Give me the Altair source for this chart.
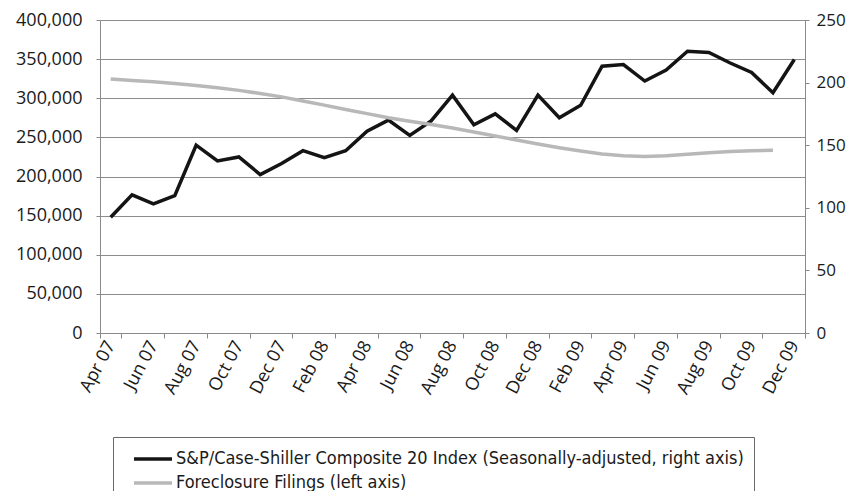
import altair as alt
import pandas as pd

months = ["Apr 07", "May 07", "Jun 07", "Jul 07", "Aug 07", "Sep 07", "Oct 07", "Nov 07",
          "Dec 07", "Jan 08", "Feb 08", "Mar 08", "Apr 08", "May 08", "Jun 08", "Jul 08",
          "Aug 08", "Sep 08", "Oct 08", "Nov 08", "Dec 08", "Jan 09", "Feb 09", "Mar 09",
          "Apr 09", "May 09", "Jun 09", "Jul 09", "Aug 09", "Sep 09", "Oct 09", "Nov 09",
          "Dec 09"]

# black line, plotted against the left axis
black_values = [148000, 176500, 165000, 175500, 240000, 220000, 225000, 202500,
                216500, 233000, 224000, 233000, 258000, 272000, 252500, 271000,
                304000, 266000, 280000, 259000, 304000, 275000, 291000, 341000,
                343000, 322000, 336000, 360000, 358500, 345000, 333000, 307000,
                349500]

# gray line, plotted against the right axis (no value for Dec 09)
gray_values = [202.8, 201.7, 200.6, 199.2, 197.6, 195.8, 193.8, 191.3,
               188.6, 185.3, 182.0, 178.5, 175.2, 172.0, 169.2, 166.6,
               163.8, 160.6, 157.4, 154.1, 151.0, 148.0, 145.4, 143.0,
               141.6, 141.0, 141.5, 142.7, 144.0, 145.0, 145.5, 145.9,
               None]

label_black = "S&P/Case-Shiller Composite 20 Index (Seasonally-adjusted, right axis)"
label_gray = "Foreclosure Filings (left axis)"

left_ticks = [0, 50000, 100000, 150000, 200000, 250000, 300000, 350000, 400000]
right_ticks = [0, 50, 100, 150, 200, 250]
x_labels = months[::2]

df_black = pd.DataFrame({"month": months, "value": black_values, "series": label_black})
df_gray = pd.DataFrame({"month": months, "value": gray_values, "series": label_gray}).dropna()

FONT = "Open Sans"

x_enc = alt.X(
    "month:N", sort=months, title=None, bandPosition=0.5,
    scale=alt.Scale(type="band", domain=months, paddingInner=0, paddingOuter=0),
    axis=alt.Axis(values=x_labels, tickBand="extent", labelAngle=298,
                  labelFont=FONT, labelFontSize=18, labelColor="#1a1a1a",
                  labelPadding=4, tickSize=5, tickColor="#8a8a8a",
                  domainColor="#8a8a8a", grid=False, labelOverlap=False),
)

color_enc = alt.Color(
    "series:N",
    scale=alt.Scale(domain=[label_black, label_gray], range=["#141414", "#b8b8b8"]),
    legend=alt.Legend(
        title=None, orient="none", legendX=13, legendY=417, direction="vertical",
        strokeColor="#6a6a6a", padding=10, symbolType="M-1.9,0L1.9,0",
        symbolSize=400, symbolStrokeWidth=3.5, symbolOffset=18, labelOffset=11,
        labelFont="Liberation Sans Narrow, DejaVu Sans Condensed, sans-serif",
        labelFontSize=18, labelColor="#1a1a1a", labelLimit=1000, rowPadding=3,
    ),
)

black = alt.Chart(df_black).mark_line(strokeWidth=3.5).encode(
    x=x_enc,
    y=alt.Y("value:Q", title=None,
            scale=alt.Scale(domain=[0, 400000], nice=False),
            axis=alt.Axis(orient="left", values=left_ticks, format=",d",
                          labelFont=FONT, labelFontSize=18, labelColor="#1a1a1a",
                          tickSize=4, tickColor="#8a8a8a", labelPadding=14,
                          domainColor="#8a8a8a", grid=True, gridColor="#8c8c8c",
                          gridWidth=1)),
    color=color_enc,
)

gray = alt.Chart(df_gray).mark_line(strokeWidth=3.5).encode(
    x=x_enc,
    y=alt.Y("value:Q", title=None,
            scale=alt.Scale(domain=[0, 250], nice=False),
            axis=alt.Axis(orient="right", values=right_ticks,
                          labelFont=FONT, labelFontSize=17, labelColor="#1a1a1a",
                          tickSize=4, tickColor="#8a8a8a", labelPadding=7,
                          domainColor="#8a8a8a", grid=False)),
    color=color_enc,
)

chart = alt.layer(black, gray).resolve_scale(y="independent").properties(
    width=705, height=313,
    autosize=alt.AutoSizeParams(type="none"),
    padding={"left": 92, "top": 12, "right": 42, "bottom": 158},
).configure_view(stroke=None).configure(background="white")

chart.save("out.html", embed_options={"renderer": "svg", "actions": False})
